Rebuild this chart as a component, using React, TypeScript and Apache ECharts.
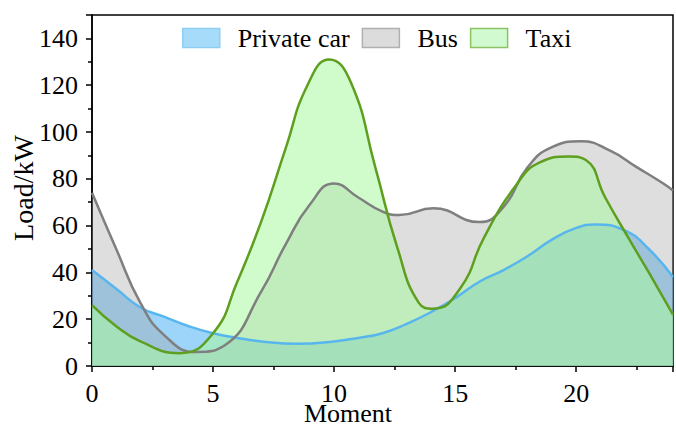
import React, { useEffect, useRef } from "react";
import * as echarts from "echarts";

const carX = [0, 1, 2, 3, 4, 5, 6, 7, 8.5, 10, 11, 12, 13, 14, 15, 16, 17, 18, 19, 20, 20.8, 22, 23, 24];
const carY = [41, 33, 25, 21, 17, 14, 12, 10.5, 9.5, 10.5, 12, 14, 18, 23, 29, 36, 41, 47, 54, 59, 60.5, 58, 50, 38];
const busX = [0, 1, 2, 3, 4.3, 5.5, 7, 8, 9, 10, 11, 12, 12.7, 14.1, 16, 17, 18, 19, 20.2, 21.4, 22.5, 23.6, 24];
const busY = [74, 50, 27, 13, 6, 9, 32, 52, 69, 78, 72, 66, 64.5, 67.4, 61.5, 68, 85, 93.5, 96, 92, 85, 78, 75];
const taxiX = [0, 1, 2, 3.6, 5, 6, 7, 8, 8.9, 9.8, 10.7, 11.7, 12.6, 13.5, 14.1, 15.2, 16.2, 17.5, 18.5, 19.7, 20.4, 21.2, 22.2, 23, 24];
const taxiY = [26, 17, 10.5, 5.5, 14, 36, 62, 93, 120, 131, 121, 85, 51, 27, 24.5, 33, 55, 77, 87, 89.5, 88, 72, 54, 40, 22];
const seriesNames = ["Private car", "Bus", "Taxi"];
const xTicks = [0, 5, 10, 15, 20];
const yTicks = [0, 20, 40, 60, 80, 100, 120, 140];

const FONT = "Liberation Serif";
const INK = "#000";

export default function App() {
  const ref = useRef<HTMLDivElement>(null);
  useEffect(() => {
    if (!ref.current) return;
    const chart = echarts.init(ref.current, undefined, { renderer: "svg" });
    const toPairs = (xs: number[], ys: number[]) => xs.map((x, i) => [x, ys[i]]);
    const lineColors = ["#58b6ee", "#7f7f7f", "#5e9f1f"];
    const areaColors = ["rgba(90,185,245,0.6)", "rgba(160,160,160,0.35)", "rgba(170,250,160,0.55)"];
    const legendFill = ["#a6dbfa", "#dcdcdc", "#d2fad0"];
    const legendBorder = ["#8fcdf2", "#b0b0b0", "#8cc264"];
    const datas = [toPairs(carX, carY), toPairs(busX, busY), toPairs(taxiX, taxiY)];
    const labelStyle = {
      fontFamily: FONT,
      fontSize: 26,
      fontWeight: "normal",
      fontStyle: "normal",
      color: INK,
      margin: 14,
    };
    chart.setOption({
      animation: false,
      textStyle: { fontFamily: FONT, fontWeight: "normal" },
      grid: {
        left: 92,
        top: 15,
        right: -8,
        bottom: 61,
        show: true,
        borderColor: "#000",
        borderWidth: 1.5,
        backgroundColor: "transparent",
      },
      legend: {
        left: 177,
        top: 20,
        itemWidth: 37,
        itemHeight: 19,
        itemGap: 12,
        data: seriesNames.map((n, i) => ({
          name: n,
          icon: "rect",
          itemStyle: { color: legendFill[i], borderColor: legendBorder[i], borderWidth: 1.5 },
        })),
        textStyle: { fontFamily: FONT, fontSize: 26, color: INK, padding: [0, 0, 0, 13] },
      },
      xAxis: {
        type: "value",
        min: 0,
        max: 24,
        interval: 5,
        axisLine: { lineStyle: { color: "#000", width: 1.5 } },
        axisTick: { show: true, length: 6, lineStyle: { color: "#000", width: 1.5 } },
        minorTick: { show: true, splitNumber: 2, length: 4, lineStyle: { color: "#000", width: 1.5 } },
        axisLabel: {
          ...labelStyle,
          formatter: (v: number) => (xTicks.includes(v) ? String(v) : ""),
        },
        splitLine: { show: false },
        minorSplitLine: { show: false },
      },
      yAxis: {
        type: "value",
        min: 0,
        max: 150,
        interval: 20,
        axisLine: { show: true, lineStyle: { color: "#000", width: 1.5 } },
        axisTick: { show: true, length: 6, lineStyle: { color: "#000", width: 1.5 } },
        minorTick: { show: true, splitNumber: 2, length: 4, lineStyle: { color: "#000", width: 1.5 } },
        axisLabel: {
          ...labelStyle,
          formatter: (v: number) => (yTicks.includes(v) ? String(v) : ""),
        },
        splitLine: { show: false },
        minorSplitLine: { show: false },
      },
      graphic: [
        {
          type: "text",
          x: 348,
          y: 413,
          style: { text: "Moment", fontFamily: FONT, fontSize: 26, fill: INK, align: "center", verticalAlign: "middle" },
        },
        {
          type: "text",
          x: 23,
          y: 188,
          rotation: Math.PI / 2,
          style: { text: "Load/kW", fontFamily: FONT, fontSize: 28, fill: INK, align: "center", verticalAlign: "middle" },
        },
      ],
      series: seriesNames.map((n, i) => ({
        name: n,
        type: "line",
        data: datas[i],
        smooth: 0.5,
        symbol: "none",
        lineStyle: { color: lineColors[i], width: 2.5 },
        itemStyle: { color: lineColors[i] },
        areaStyle: { color: areaColors[i], opacity: 1 },
      })),
    });
    return () => chart.dispose();
  }, []);
  return <div ref={ref} style={{ position: "absolute", left: 0, top: 0, width: 676, height: 427 }} />;
}
